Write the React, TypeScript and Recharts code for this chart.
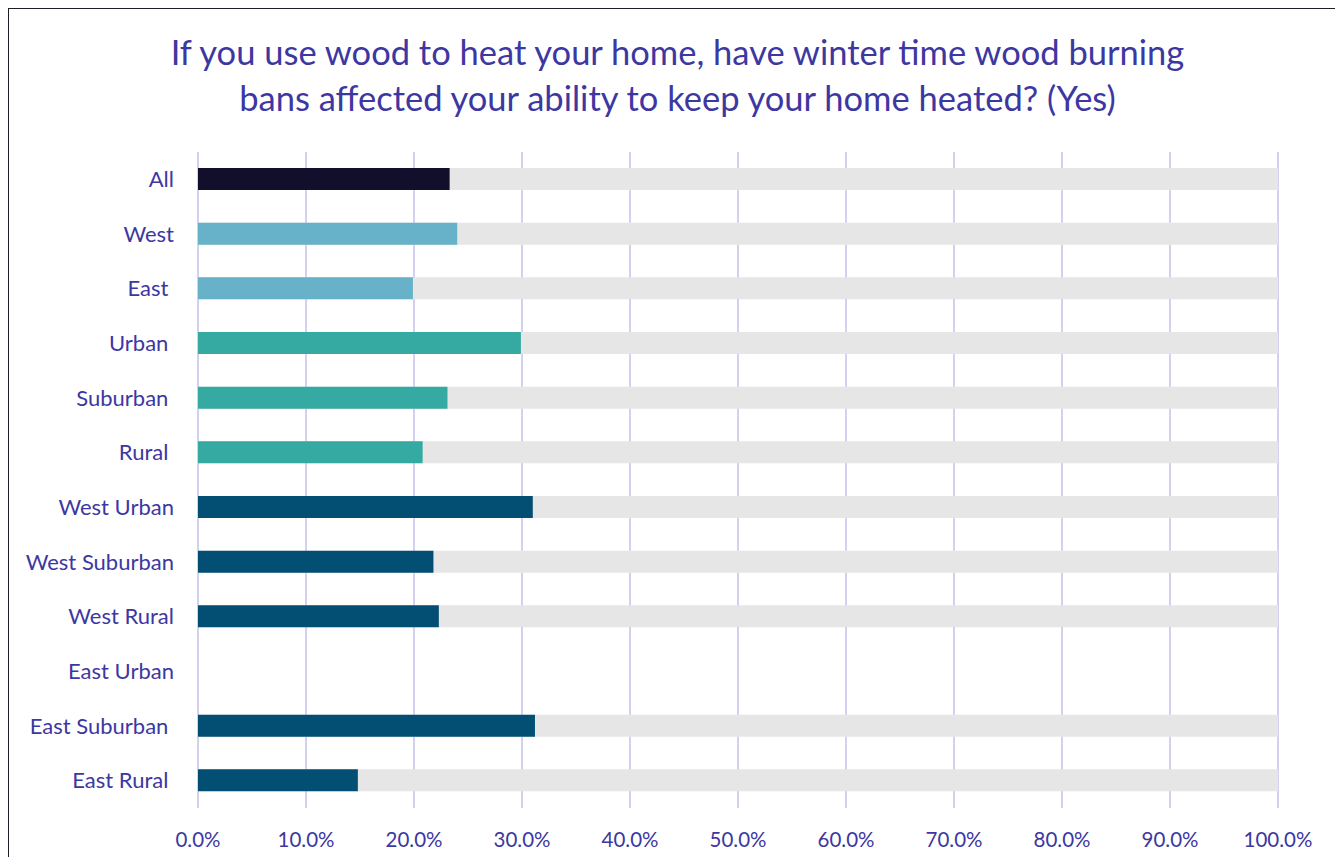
import React from 'react';
import { BarChart, Bar, Cell, XAxis, YAxis, CartesianGrid } from 'recharts';

const categories = [
  'All',
  'West',
  'East\u00A0',
  'Urban\u00A0',
  'Suburban\u00A0',
  'Rural\u00A0',
  'West Urban',
  'West Suburban',
  'West Rural',
  'East Urban',
  'East Suburban\u00A0',
  'East Rural\u00A0',
];
const yesValues = [23.3, 24.0, 19.9, 29.9, 23.1, 20.8, 31.0, 21.8, 22.3, 0, 31.2, 14.8];
const barColors = [
  '#120f2d',
  '#67b1c9',
  '#67b1c9',
  '#35aaa2',
  '#35aaa2',
  '#35aaa2',
  '#034f73',
  '#034f73',
  '#034f73',
  '#034f73',
  '#034f73',
  '#034f73',
];
const xTicks = [0, 10, 20, 30, 40, 50, 60, 70, 80, 90, 100];

const TEXT = '#3d37a2';
const FONT = 'Lato, "Open Sans", sans-serif';

const data = categories.map((name, i) => ({ name, value: yesValues[i] }));

export default function App() {
  return (
    <div style={{ margin: -8, width: 1343, height: 865, position: 'relative', overflow: 'hidden', background: '#fff', fontFamily: FONT }}>
      {/* frame: only the top and left edges fall inside the picture */}
      <div style={{ position: 'absolute', left: 7, top: 7, width: 1336, height: 2, background: '#1e1e2a' }} />
      <div style={{ position: 'absolute', left: 7, top: 7, width: 2, height: 858, background: '#1e1e2a' }} />
      <div
        style={{
          position: 'absolute',
          left: 0,
          top: 29,
          width: 1355,
          textAlign: 'center',
          fontSize: 34.5,
          lineHeight: '46px',
          color: TEXT,
          whiteSpace: 'nowrap',
        }}
      >
        If you use wood to heat your home, have winter time wood burning
        <br />
        bans affected your ability to keep your home heated? (Yes)
      </div>
      <div style={{ position: 'absolute', left: 0, top: 0 }}>
        <BarChart
          width={1343}
          height={865}
          data={data}
          layout="vertical"
          margin={{ top: 152, right: 65, left: 0, bottom: 27 }}
          barCategoryGap={16}
        >
          <CartesianGrid horizontal={false} stroke="#d4d0f0" strokeWidth={2} />
          <XAxis
            type="number"
            domain={[0, 100]}
            ticks={xTicks}
            interval={0}
            axisLine={false}
            tickLine={false}
            tickMargin={18}
            height={30}
            tick={{ fill: TEXT, fontSize: 20.5, fontFamily: FONT }}
            tickFormatter={(v: number) => `${v.toFixed(1)}%`}
          />
          <YAxis
            type="category"
            dataKey="name"
            width={198}
            axisLine={false}
            tickLine={false}
            tickMargin={18}
            interval={0}
            tick={{ fill: TEXT, fontSize: 22, fontFamily: FONT }}
          />
          <Bar dataKey="value" barSize={22} background={{ fill: '#e6e6e6' }} isAnimationActive={false}>
            {data.map((entry, i) => (
              <Cell key={i} fill={barColors[i]} />
            ))}
          </Bar>
        </BarChart>
      </div>
    </div>
  );
}
